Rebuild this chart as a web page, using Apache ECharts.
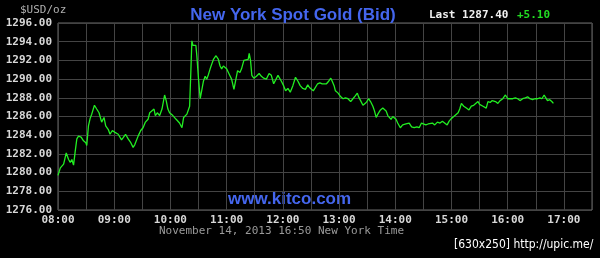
<!DOCTYPE html>
<html>
<head>
<meta charset="utf-8">
<script src="https://cdn.jsdelivr.net/npm/echarts@6/dist/echarts.min.js"></script>
<style>
html,body{margin:0;padding:0;background:#000;}
#c{width:600px;height:258px;}
</style>
</head>
<body>
<div id="c"></div>
<script>
// minutes after 08:00 New York time
var minutesAfter0800 = [
0,2.5,4.2,6,8.8,11.3,13.1,14.8,16.6,18.4,20.1,21.9,24.7,27.2,29.7,30.7,32.5,34.3,36,38.9,41.3,43.8,46.6,49.1,50.9,53.7,55.5,58,60.8,64.3,67.8,69.6,72.1,74.9,77.7,80.2,82,83.7,85.5,88.3,90.8,93.3,96.1,97.9,99.6,102.5,103.9,106,108.5,111,113.8,115.5,117.3,119.1,122.6,126.1,129.7,
132.3,134.1,135.9,137.6,139.4,140.5,141.9,142.9,144,145.4,147.2,148.2,150,151.8,153.5,155.3,157.1,158.8,160.6,162.4,164.1,165.9,168.7,171.2,173,174.7,176.5,178.3,180,182.9,185.3,187.8,189.9,191.7,194.2,195.9,198.4,200.5,203,204.1,205.5,206.9,209,211.8,214.7,217.1,219.6,222.4,225.3,227.7,230.2,232.3,234.8,236.6,238.3,240.8,242.9,245.4,247.9,250.7,253.5,256,258.5,261.3,264.1,266.6,268.4,
270,272.5,274.2,277.1,279.5,282,284.1,286.6,289.1,291.2,292.6,294.7,296.1,299,301.8,304.3,306.7,309.5,312.4,314.8,317.3,319.5,320.9,323,325.5,327.2,329,331.5,333.6,336.1,337.8,339.6,341.4,344.2,346.7,348.4,350.2,352,353.7,355.5,357.3,359,360.8,362.6,365.4,367.9,371.4,374.9,377.4,380.2,383.1,385.5,388,390.1,392.6,395.1,397.2,399.7,402.1,405,407.8,410.3,412.1,
415.4,417.5,420,422.5,424.6,427.1,428.8,430.6,433.1,435.9,438.7,441.2,443.7,445.8,448.3,450,451.8,453.6,455.3,457.1,458.9,461.3,463.5,465.2,467,469.5,471.9,474.8,477.6,480.1,482.5,485.4,488.2,490.7,493.1,496,498.8,501.3,503.7,506.6,509,511.9,514.3,516.5,518.9,520.7,522.5,524.9,527.1,528.8
];
// bid price, USD per troy ounce
var bidPrice = [
1279.7,1280.5,1280.4,1280.9,1282.1,1281.4,1281.1,1281.4,1280.8,1282.3,1283.6,1283.9,1283.8,1283.4,1283.2,1282.9,1285.0,1285.8,1286.25,1287.2,1286.8,1286.4,1285.4,1285.9,1285.0,1284.6,1284.1,1284.5,1284.3,1284.1,1283.5,1283.75,1284.1,1283.6,1283.2,1282.7,1283.0,1282.9,1283.9,1284.5,1284.8,1285.4,1285.7,1286.4,1286.6,1286.8,1286.1,1286.4,1286.1,1286.8,1288.3,1287.7,1286.8,1286.4,1286.1,1285.7,1285.3,
1284.8,1285.9,1286.0,1286.25,1286.25,1287.1,1291.1,1294.1,1293.6,1293.75,1293.6,1292.5,1290.0,1287.9,1288.0,1289.8,1290.3,1290.0,1290.5,1291.1,1291.6,1292.1,1292.5,1292.1,1291.4,1291.1,1291.4,1291.25,1291.1,1290.5,1290.0,1288.9,1290.0,1290.9,1290.7,1291.1,1292.0,1291.8,1292.1,1292.75,1292.0,1290.4,1290.1,1290.3,1290.6,1290.3,1290.1,1290.0,1290.6,1290.4,1289.5,1289.6,1290.4,1290.2,1289.8,1289.3,1288.75,1289.0,1288.6,1289.3,1290.2,1289.8,1289.3,1289.0,1288.9,1289.4,1289.1,
1288.9,1288.75,1288.9,1289.5,1289.6,1289.5,1289.6,1289.5,1289.8,1290.1,1289.8,1289.3,1288.75,1288.5,1288.1,1287.9,1288.0,1287.9,1287.6,1287.9,1288.2,1288.5,1288.1,1287.7,1287.2,1287.1,1287.5,1287.9,1287.6,1287.1,1286.6,1285.9,1286.25,1286.7,1286.9,1287.0,1286.6,1286.1,1286.25,1285.7,1286.0,1286.1,1285.7,1285.3,1284.8,1285.1,1285.2,1285.3,1284.9,1284.8,1284.9,1284.8,1285.3,1285.4,1285.1,1285.2,1285.0,1285.3,1285.1,1285.4,1285.3,1285.5,1285.4,
1285.1,1285.5,1285.8,1286.0,1285.9,1286.4,1286.8,1287.4,1287.1,1286.9,1286.7,1287.1,1287.2,1287.3,1287.6,1287.3,1287.5,1287.1,1287.3,1286.9,1287.6,1287.5,1287.7,1287.9,1287.6,1287.4,1287.7,1287.9,1288.3,1287.9,1287.9,1287.9,1288.0,1287.9,1287.7,1287.9,1288.0,1288.1,1287.9,1287.8,1287.9,1287.9,1288.0,1287.9,1288.3,1288.0,1287.7,1287.8,1287.6,1287.4
];
var hourLabels = ['08:00','09:00','10:00','11:00','12:00','13:00','14:00','15:00','16:00','17:00'];
var yMin = 1276, yMax = 1296, yStep = 2;
var xMin = 0, xMax = 570, xStep = 30;

var points = minutesAfter0800.map(function(m, i){ return [m, bidPrice[i]]; });
var mono = '"DejaVu Sans Mono", monospace';

var chart = echarts.init(document.getElementById('c'), null, {renderer:'canvas'});
chart.setOption({
  backgroundColor: '#000',
  animation: false,
  grid: {left:58, right:8, top:23, bottom:48, show:true, borderColor:'#6a6a6a', borderWidth:1, backgroundColor:'#000'},
  title: {
    text: 'New York Spot Gold (Bid)', left: 288, top: 2, textAlign: 'center',
    textStyle: {color:'#4466ee', fontFamily:'"Liberation Sans", Arial, sans-serif', fontWeight:'bold', fontSize:17}
  },
  xAxis: {
    type:'value', min:xMin, max:xMax, interval:xStep,
    axisLine:{show:false}, axisTick:{show:false},
    splitLine:{show:true, lineStyle:{color:'#444', width:1}},
    axisLabel:{
      color:'#d8d8d8', fontFamily:mono, fontWeight:'bold', fontSize:11, margin:5,
      showMaxLabel:false,
      formatter:function(v){ return v % 60 === 0 ? (hourLabels[v/60] || '') : ''; }
    }
  },
  yAxis: {
    type:'value', min:yMin, max:yMax, interval:yStep,
    axisLine:{show:false}, axisTick:{show:false},
    splitLine:{show:true, lineStyle:{color:'#444', width:1}},
    axisLabel:{
      color:'#d8d8d8', fontFamily:mono, fontWeight:'bold', fontSize:11, margin:6,
      formatter:function(v){ return v.toFixed(2); }
    }
  },
  graphic: [
    {type:'text', left:20, top:5, style:{text:'$USD/oz', fill:'#b0b0b0', font:'11px '+mono}},
    {type:'text', left:429, top:10, style:{text:'Last 1287.40', fill:'#f0f0f0', font:'bold 11px '+mono}},
    {type:'text', left:517, top:10, style:{text:'+5.10', fill:'#22dd22', font:'bold 11px '+mono}},
    {type:'text', left:228, top:191, style:{text:'www.kitco.com', fill:'#4466ee', font:'bold 17px "Liberation Sans", Arial, sans-serif'}},
    {type:'text', left:159, top:226, style:{text:'November 14, 2013 16:50 New York Time', fill:'#9a9a9a', font:'11px '+mono}},
    {type:'text', left:454, top:239, style:{text:'[630x250] http://upic.me/', fill:'#ffffff', font:'12px "Liberation Sans Narrow", "DejaVu Sans Condensed", sans-serif'}}
  ],
  series: [{
    type:'line', data:points, showSymbol:false, symbol:'none',
    lineStyle:{color:'#22ee22', width:1.3}
  }]
});
</script>
</body>
</html>
